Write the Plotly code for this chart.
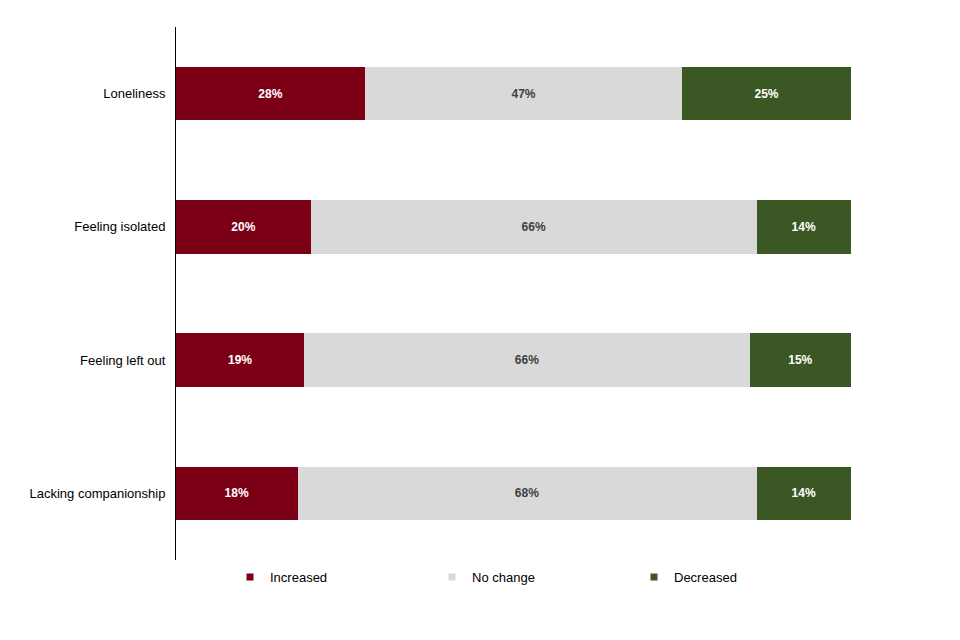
import plotly.graph_objects as go

categories = ["Loneliness", "Feeling isolated", "Feeling left out", "Lacking companionship"]
increased = [28, 20, 19, 18]
no_change = [47, 66, 66, 68]
decreased = [25, 14, 15, 14]

series = [
    ("Increased", increased, "#7B0016", "#FFFFFF"),
    ("No change", no_change, "#D9D9D9", "#404040"),
    ("Decreased", decreased, "#3A5724", "#FFFFFF"),
]

fig = go.Figure()
for name, vals, color, tcolor in series:
    fig.add_trace(go.Bar(
        y=categories, x=vals, name=name, orientation="h",
        marker=dict(color=color, line=dict(width=0)),
        width=0.4, showlegend=False,
        text=[f"{v}%" for v in vals], textposition="inside",
        insidetextanchor="middle", textangle=0,
        textfont=dict(color=tcolor, size=12, family="Liberation Sans", weight="bold"),
        hoverinfo="skip",
    ))
for name, vals, color, tcolor in series:
    fig.add_trace(go.Scatter(
        x=[None], y=[None], mode="markers", name=name,
        marker=dict(symbol="square", size=7, color=color),
        hoverinfo="skip",
    ))

fig.update_layout(
    barmode="stack",
    width=944, height=624,
    margin=dict(l=168, r=101, t=19, b=72),
    paper_bgcolor="white", plot_bgcolor="white",
    font=dict(family="Liberation Sans", size=13, color="#000000"),
    showlegend=True,
    legend=dict(
        orientation="h", x=0.08, xanchor="left", y=-0.032, yanchor="middle",
        entrywidth=157, entrywidthmode="pixels",
        font=dict(size=13, color="#000000"),
        traceorder="normal", itemsizing="trace",
    ),
    uniformtext=dict(minsize=12, mode="show"),
)
fig.update_xaxes(range=[0, 100], visible=False, showgrid=False, zeroline=False)
fig.update_yaxes(
    autorange=False, range=[3.5, -0.5], showgrid=False, zeroline=False,
    showline=True, linecolor="#000000", linewidth=1,
    ticks="", ticklabelstandoff=7, tickfont=dict(size=13, color="#000000"),
)

fig.write_html("out.html")
